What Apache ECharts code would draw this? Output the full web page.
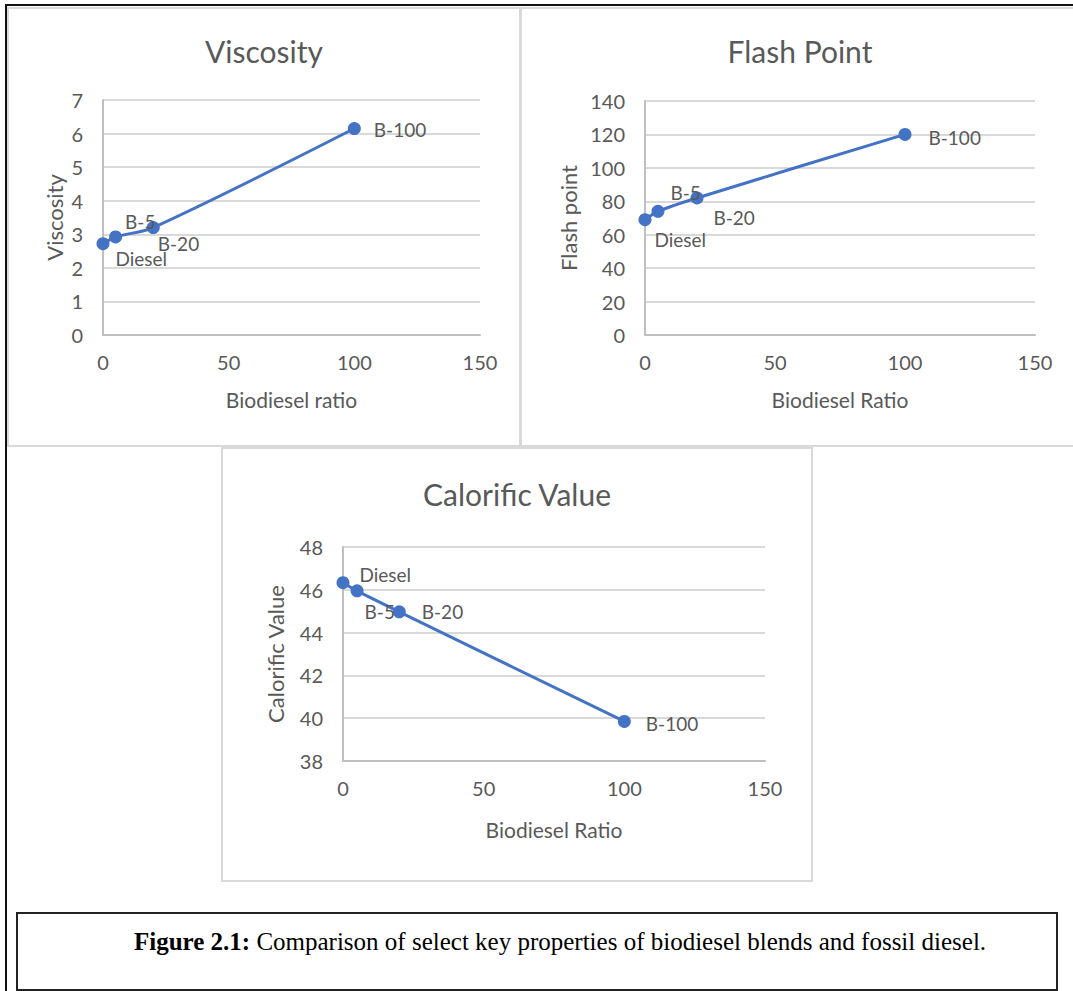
<!DOCTYPE html>
<html>
<head>
<meta charset="utf-8">
<script src="https://cdn.jsdelivr.net/npm/echarts@6/dist/echarts.min.js"></script>
<style>
html,body{margin:0;padding:0;background:#fff;}
#c{width:1073px;height:991px;}
</style>
</head>
<body>
<div id="c"></div>
<script>
// ---- data ----
const blendNames = ['Diesel', 'B-5', 'B-20', 'B-100'];
const biodieselRatio = [0, 5, 20, 100];
const viscosity = [2.72, 2.92, 3.2, 6.15];
const flashPoint = [69, 74, 82, 120];
const calorificValue = [46.33, 45.95, 44.97, 39.85];
const xTicks = [0, 50, 100, 150];
const viscosityTicks = [0, 1, 2, 3, 4, 5, 6, 7];
const flashTicks = [0, 20, 40, 60, 80, 100, 120, 140];
const calorificTicks = [38, 40, 42, 44, 46, 48];

// ---- layout / style ----
const FONT = 'Lato, "Open Sans", sans-serif';
const GREY = '#595959';
const BLUE = '#4472C4';
const GRID_LINE = '#D9D9D9';

const panels = [
  { title: 'Viscosity', xName: 'Biodiesel ratio', yName: 'Viscosity', values: viscosity, ticks: viscosityTicks,
    grid: { left: 103, top: 100, width: 377, height: 235 }, titlePos: [264, 51], yNameGap: 38, xNameGap: 54,
    offsets: [[1, 15], [-2, -15], [-7, 16], [8, 1]] },
  { title: 'Flash Point', xName: 'Biodiesel Ratio', yName: 'Flash point', values: flashPoint, ticks: flashTicks,
    grid: { left: 645, top: 101, width: 390, height: 234 }, titlePos: [800, 51], yNameGap: 66, xNameGap: 54,
    offsets: [[-2, 20], [1, -19], [5, 20], [12, 3]] },
  { title: 'Calorific Value', xName: 'Biodiesel Ratio', yName: 'Calorific Value', values: calorificValue, ticks: calorificTicks,
    grid: { left: 343, top: 547, width: 422, height: 214 }, titlePos: [517, 494], yNameGap: 57, xNameGap: 58,
    offsets: [[5, -8], [-4, 21], [11, 0], [10, 2]] }
];

const chart = echarts.init(document.getElementById('c'), null, { renderer: 'svg' });

const grids = [], xAxes = [], yAxes = [], series = [];
panels.forEach((p, k) => {
  grids.push(Object.assign({ containLabel: false }, p.grid));
  xAxes.push({
    type: 'value', gridIndex: k, min: xTicks[0], max: xTicks[xTicks.length - 1], interval: xTicks[1] - xTicks[0],
    name: p.xName, nameLocation: 'middle', nameGap: p.xNameGap,
    nameTextStyle: { color: GREY, fontSize: 21, fontFamily: FONT },
    axisLine: { show: true, onZero: false, lineStyle: { color: '#BFBFBF', width: 2 } },
    axisTick: { show: false },
    splitLine: { show: false },
    axisLabel: { color: GREY, fontSize: 20, fontFamily: FONT, margin: 17 }
  });
  yAxes.push({
    type: 'value', gridIndex: k, min: p.ticks[0], max: p.ticks[p.ticks.length - 1], interval: p.ticks[1] - p.ticks[0],
    name: p.yName, nameLocation: 'middle', nameGap: p.yNameGap, nameRotate: 90,
    nameTextStyle: { color: GREY, fontSize: 22, fontFamily: FONT },
    axisLine: { show: true, lineStyle: { color: '#BFBFBF', width: 2 } },
    axisTick: { show: false },
    splitLine: { show: true, lineStyle: { color: GRID_LINE, width: 2 } },
    axisLabel: { color: GREY, fontSize: 20, fontFamily: FONT, margin: 20 }
  });
  series.push({
    type: 'line', xAxisIndex: k, yAxisIndex: k, smooth: 0.3,
    symbol: 'circle', symbolSize: 13,
    lineStyle: { color: BLUE, width: 3 },
    itemStyle: { color: BLUE },
    z: 3,
    data: biodieselRatio.map((x, i) => ({
      value: [x, p.values[i]],
      name: blendNames[i],
      label: { offset: p.offsets[i] }
    })),
    label: {
      show: true, position: 'right', distance: 5,
      formatter: (d) => d.name,
      color: GREY, fontSize: 19, fontFamily: FONT
    },
    emphasis: { disabled: true },
    animation: false
  });
});

const SERIF = '"Liberation Serif", "Times New Roman", serif';
const graphics = [
  // panel backgrounds/borders
  { type: 'rect', shape: { x: 8, y: 8, width: 512, height: 438 }, style: { fill: '#fff', stroke: '#D9D9D9', lineWidth: 2 }, z: -10 },
  { type: 'rect', shape: { x: 521, y: 8, width: 560, height: 438 }, style: { fill: '#fff', stroke: '#D9D9D9', lineWidth: 2 }, z: -10 },
  { type: 'rect', shape: { x: 222, y: 448, width: 590, height: 433 }, style: { fill: '#fff', stroke: '#D9D9D9', lineWidth: 2 }, z: -10 },
  // outer black frame
  { type: 'line', shape: { x1: 5, y1: 5, x2: 1073, y2: 5 }, style: { stroke: '#111', lineWidth: 2 }, z: 10 },
  { type: 'line', shape: { x1: 6, y1: 5, x2: 6, y2: 991 }, style: { stroke: '#111', lineWidth: 2 }, z: 10 },
  // caption box
  { type: 'rect', shape: { x: 17, y: 913, width: 1040, height: 77 }, style: { fill: '#fff', stroke: '#222', lineWidth: 2 }, z: 10 },
  { type: 'text', x: 560, y: 941, z: 11,
    style: {
      text: '{b|Figure 2.1:} Comparison of select key properties of biodiesel blends and fossil diesel.',
      align: 'center', verticalAlign: 'middle',
      fill: '#000', fontSize: 25, fontFamily: SERIF,
      rich: { b: { fontWeight: 'bold', fontSize: 25, fontFamily: SERIF, fill: '#000' } }
    } }
];
panels.forEach(p => {
  graphics.push({ type: 'text', x: p.titlePos[0], y: p.titlePos[1], z: 5,
    style: { text: p.title, align: 'center', verticalAlign: 'middle', fill: GREY, fontSize: 30, fontFamily: FONT } });
});

chart.setOption({
  animation: false,
  backgroundColor: '#fff',
  grid: grids,
  xAxis: xAxes,
  yAxis: yAxes,
  series: series,
  graphic: { elements: graphics }
});
</script>
</body>
</html>
